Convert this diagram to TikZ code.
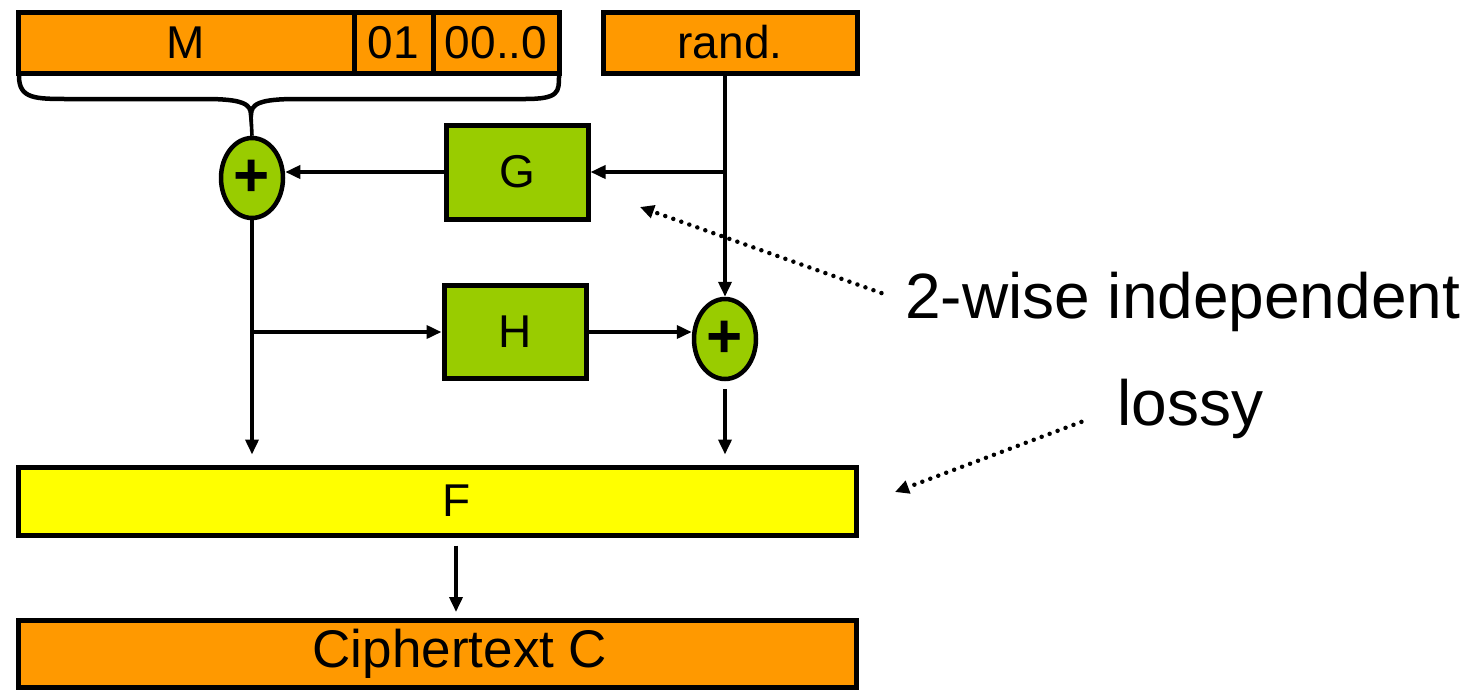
\documentclass[tikz,border=0pt]{standalone}
\usepackage{fontspec}
\setmainfont{Liberation Sans}
\usetikzlibrary{arrows.meta,shapes.geometric}

\definecolor{boxorange}{HTML}{FF9900}
\definecolor{boxgreen}{HTML}{99CC00}
\definecolor{boxyellow}{HTML}{FFFF00}

\tikzset{
  blk/.style={draw=black, line width=5pt, inner sep=0pt,
    font=\fontsize{46}{50}\selectfont},
  bitfield/.style={blk, fill=boxorange, minimum height=61pt},
  funcbox/.style={blk, fill=boxgreen, minimum width=142pt, minimum height=94pt},
  xorop/.style={draw=black, line width=4.5pt, fill=boxgreen, ellipse,
    inner sep=0pt, minimum width=62pt, minimum height=80pt,
    font=\fontsize{62}{66}\selectfont\bfseries},
  arr/.style={line width=3.6pt, -{Triangle[length=15pt,width=13pt]}},
  wire/.style={line width=3.6pt},
  brace/.style={line width=4.5pt},
  note/.style={inner sep=0pt, font=\fontsize{64}{70}\selectfont},
  dotarr/.style={line width=4.5pt, line cap=round, dash pattern=on 0pt off 8.5pt,
    -{Triangle[length=14pt,width=13pt]}}
}

\begin{document}
\begin{tikzpicture}[x=1pt, y=-1pt]
\useasboundingbox (0,0) rectangle (1484,689);

% input fields
\node[bitfield, minimum width=336pt] (M)    at (186,42.5)  {M};
\node[bitfield, minimum width=79pt]  (pad1) at (393.5,42.5) {01};
\node[bitfield, minimum width=126pt] (pad0) at (496,42.5)  {00..0};
\node[bitfield, minimum width=254pt] (rand) at (730,42.5)  {rand.};

% XOR gates and the two hash functions
\node[xorop] (xorL) at (252,178) {\raisebox{-4pt}{+}};
\node[xorop] (xorR) at (725,339) {\raisebox{-4pt}{+}};
\node[funcbox] (G) at (517,172) {G};
\node[funcbox, minimum height=93pt] (H) at (515,332) {H};

% lossy function and output
\node[blk, fill=boxyellow, minimum width=838pt, minimum height=68pt] (F)
  at (437,501) {\hspace*{40pt}F};
\node[blk, fill=boxorange, minimum width=838pt, minimum height=67pt,
  font=\fontsize{53}{58}\selectfont] (C) at (437,654) {\hspace*{46pt}Ciphertext C};

% brace collecting M || 01 || 00..0
\coordinate (tip) at (251,115);
\draw[brace] (19,76) .. controls (19,99) and (35,99) .. (70,99) -- (205,99)
  .. controls (243,99) and (251,104) .. (tip)
  .. controls (251,104) and (259,99) .. (297,99) -- (525,99)
  .. controls (559,99) and (559,92) .. (559,76);
\draw[wire] (tip) -- (xorL.north);

% randomness path
\coordinate (jr) at (xorR.north |- G.east);
\draw[arr] (rand.south -| xorR.north) -- (xorR.north);
\draw[arr] (jr) -- (G.east);
\draw[arr] (G.west) -- (G.west -| xorL.east);

% masked message path
\coordinate (jl) at (xorL.south |- H.west);
\draw[arr, shorten >=10pt] (xorL.south) -- (xorL.south |- F.north);
\draw[arr] (jl) -- (H.west);
\draw[arr] (H.east) -- (H.east -| xorR.west);
\draw[arr, shorten <=8pt, shorten >=10pt] (xorR.south) -- (xorR.south |- F.north);

% output
\draw[arr, shorten <=8pt, shorten >=6pt] (F.south -| 456,0) -- (C.north -| 456,0);

% annotations
\node[note, anchor=base west] (ind) at (905,318) {2-wise independent};
\node[note, anchor=base west] (lossy) at (1117,425) {lossy};
\coordinate (gmark) at (640,207);
\coordinate (fmark) at (895,492);
\draw[dotarr, shorten <=25pt] (ind.west) -- (gmark);
\draw[dotarr, shorten <=38pt] (lossy.west) -- (fmark);
\end{tikzpicture}
\end{document}
